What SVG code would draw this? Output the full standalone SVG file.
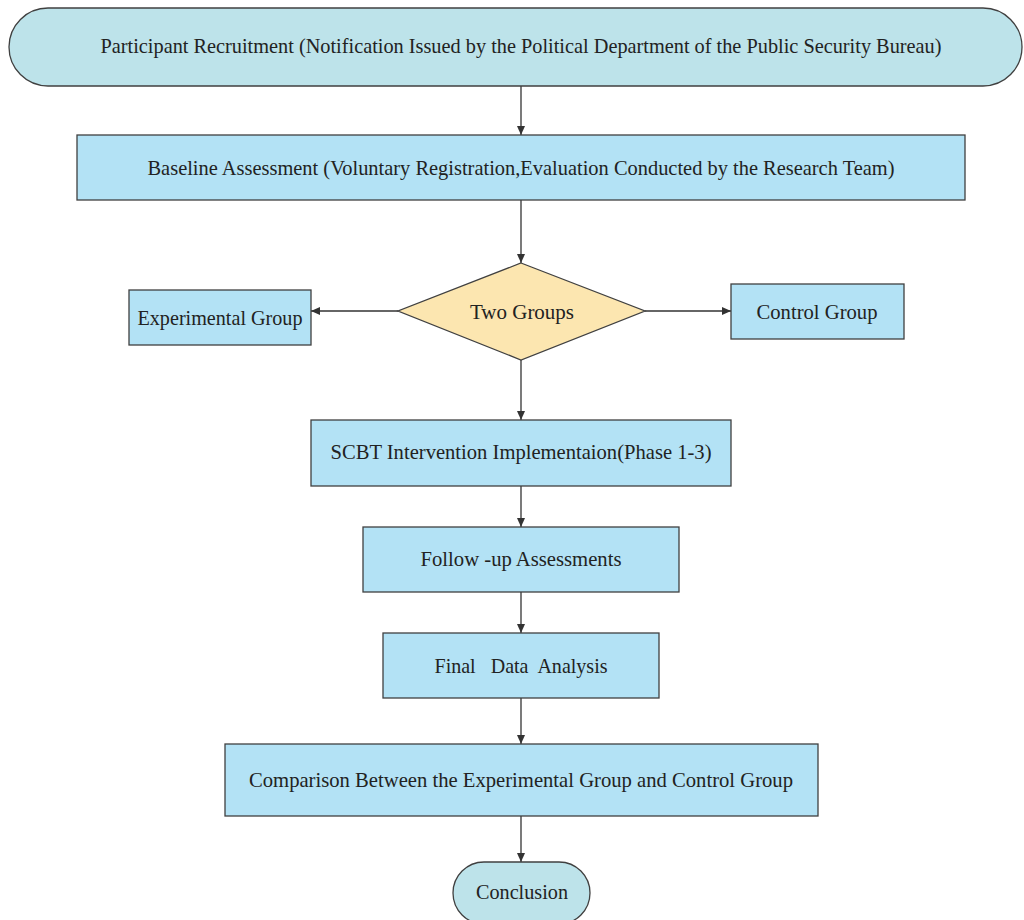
<svg xmlns="http://www.w3.org/2000/svg" width="1024" height="920" viewBox="0 0 1024 920">
<defs>
<marker id="ah" markerWidth="9" markerHeight="9" refX="9" refY="4.5" orient="auto" markerUnits="userSpaceOnUse">
<path d="M0,0.5 L9,4.5 L0,8.5 Z" fill="#333"/>
</marker>
<style>
.term{fill:#bde3ea;stroke:#404040;stroke-width:1.3}
.box{fill:#b3e2f5;stroke:#404040;stroke-width:1.3}
.dec{fill:#fce6b0;stroke:#404040;stroke-width:1.3}
.t{font-family:"Liberation Serif","Times New Roman",serif;font-size:22px;fill:#222;text-anchor:middle;dominant-baseline:central}
.c{stroke:#333;stroke-width:1.3;fill:none;marker-end:url(#ah)}
</style>
</defs>
<rect width="1024" height="920" fill="#ffffff"/>
<g id="connectors">
<line class="c" x1="521" y1="86" x2="521" y2="135"/>
<line class="c" x1="521" y1="200" x2="521" y2="263"/>
<line class="c" x1="398" y1="311" x2="311" y2="311"/>
<line class="c" x1="645" y1="311" x2="731" y2="311"/>
<line class="c" x1="521" y1="360" x2="521" y2="420"/>
<line class="c" x1="521" y1="486" x2="521" y2="527"/>
<line class="c" x1="521" y1="592" x2="521" y2="633"/>
<line class="c" x1="521" y1="698" x2="521" y2="744"/>
<line class="c" x1="521" y1="816" x2="521" y2="862"/>
</g>
<g id="recruitment">
<rect class="term" x="9" y="8" width="1013" height="78" rx="39" ry="39"/>
<text class="t" x="521" y="45" textLength="841" lengthAdjust="spacingAndGlyphs">Participant Recruitment (Notification Issued by the Political Department of the Public Security Bureau)</text>
</g>
<g id="baseline">
<rect class="box" x="77" y="135" width="888" height="65"/>
<text class="t" x="521" y="167" textLength="747" lengthAdjust="spacingAndGlyphs">Baseline Assessment (Voluntary Registration,Evaluation Conducted by the Research Team)</text>
</g>
<g id="two-groups">
<polygon class="dec" points="521,263 645,311 521,360 398,311"/>
<text class="t" x="522" y="311" textLength="104" lengthAdjust="spacingAndGlyphs">Two Groups</text>
</g>
<g id="experimental">
<rect class="box" x="129" y="290" width="182" height="55"/>
<text class="t" x="220" y="317" textLength="165" lengthAdjust="spacingAndGlyphs">Experimental Group</text>
</g>
<g id="control">
<rect class="box" x="731" y="284" width="173" height="55"/>
<text class="t" x="817" y="311" textLength="121" lengthAdjust="spacingAndGlyphs">Control Group</text>
</g>
<g id="scbt">
<rect class="box" x="311" y="420" width="420" height="66"/>
<text class="t" x="521" y="451" textLength="381" lengthAdjust="spacingAndGlyphs">SCBT Intervention Implementaion(Phase 1-3)</text>
</g>
<g id="followup">
<rect class="box" x="363" y="527" width="316" height="65"/>
<text class="t" x="521" y="558" textLength="201" lengthAdjust="spacingAndGlyphs" xml:space="preserve">Follow -up Assessments</text>
</g>
<g id="analysis">
<rect class="box" x="383" y="633" width="276" height="65"/>
<text class="t" x="521" y="665" textLength="173" lengthAdjust="spacingAndGlyphs" xml:space="preserve">Final   Data  Analysis</text>
</g>
<g id="comparison">
<rect class="box" x="225" y="744" width="593" height="72"/>
<text class="t" x="521" y="779" textLength="544" lengthAdjust="spacingAndGlyphs">Comparison Between the Experimental Group and Control Group</text>
</g>
<g id="conclusion">
<rect class="term" x="453" y="862" width="137" height="62" rx="31" ry="31"/>
<text class="t" x="522" y="891" textLength="92" lengthAdjust="spacingAndGlyphs">Conclusion</text>
</g>
</svg>
